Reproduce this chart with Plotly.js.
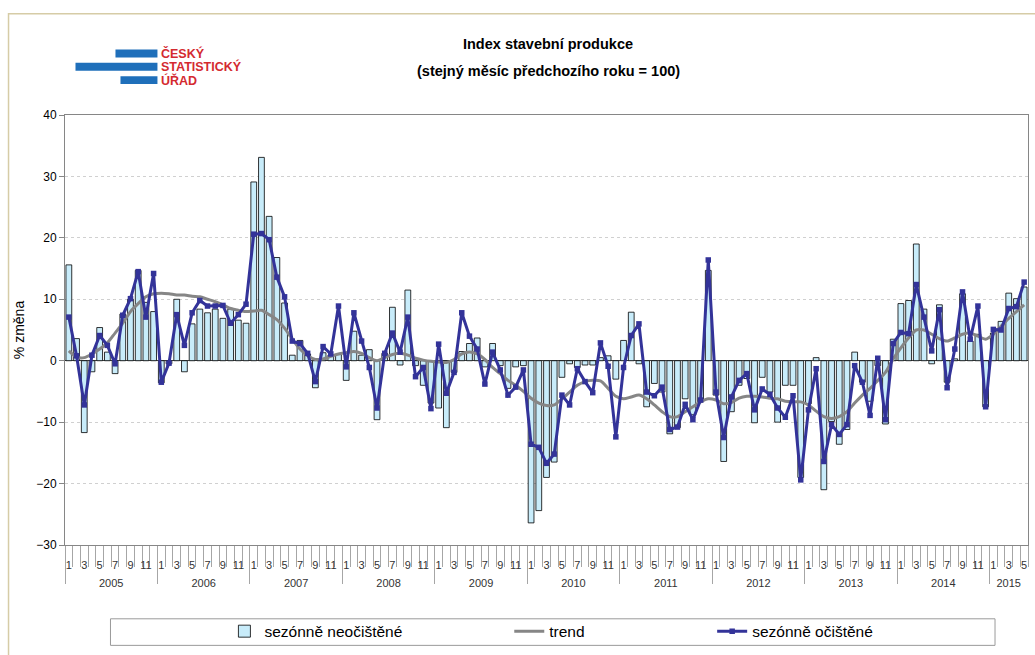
<!DOCTYPE html>
<html>
<head>
<meta charset="utf-8">
<script src="https://cdn.plot.ly/plotly-3.0.1.min.js"></script>
<style>html,body{margin:0;padding:0;background:#fff;}#chart{width:1035px;height:655px;}</style>
</head>
<body>
<div id="chart"></div>
<script>
// ---- data ----
const years = [2005, 2006, 2007, 2008, 2009, 2010, 2011, 2012, 2013, 2014, 2015];
const monthsInYear = [12, 12, 12, 12, 12, 12, 12, 12, 12, 12, 5];
const monthTickLabels = ['1', '3', '5', '7', '9', '11'];

const unadjusted = [
  15.6, 3.6, -11.7, -1.8, 5.4, 1.4, -2.1, 7.6, 10.0, 14.7, 9.5, 8.0,
  -3.6, -0.5, 10.0, -1.8, 6.0, 8.4, 7.8, 8.4, 6.9, 8.4, 6.6, 6.1,
  29.1, 33.1, 23.5, 16.8, 9.4, 0.9, 3.3, 1.1, -4.4, 1.3, 0.9, 1.0,
  -3.2, 4.8, 0.9, 1.8, -9.6, 1.2, 8.7, -0.7, 11.5, -0.8, -4.0, -6.9,
  -7.7, -10.9, -1.9, 1.5, 2.8, 3.7, -1.0, 2.8, -0.8, -4.5, -1.0, -0.8,
  -26.4, -24.4, -19.0, -16.5, -2.7, -0.5, -1.1, -0.7, -0.7, 0.5, 0.8, -3.0,
  3.3, 7.9, -0.5, -7.5, -3.7, -5.1, -11.9, -10.9, -6.2, -8.8, -6.7, 14.7,
  -5.6, -16.4, -8.3, -4.0, -2.9, -10.1, -2.7, -5.1, -10.0, -4.0, -4.0, -19.0,
  -7.0, 0.5, -21.0, -9.9, -13.6, -11.2, 1.4, -3.5, -6.6, -0.8, -10.3, 3.5,
  9.3, 9.8, 19.0, 8.4, -0.5, 9.1, -3.5, 0.3, 10.9, 3.2, 4.3, -7.5,
  4.5, 6.4, 11.0, 10.1, 12.0
];
const trend = [
  1.6, 0.6, 0.5, 1.1, 1.9, 2.9, 4.5, 6.1, 8.0, 9.3, 10.4, 10.9,
  11.0, 10.9, 10.7, 10.7, 10.5, 10.4, 10.0, 9.6, 9.1, 8.5, 8.2, 8.0,
  8.1, 8.2, 7.5, 6.7, 5.3, 3.5, 1.9, 0.8, 0.2, 0.3, 0.7, 1.1,
  1.3, 1.5, 1.2, 0.5, 0.0, 0.5, 1.0, 1.2, 0.9, 0.4, 0.1, -0.1,
  -0.2, -0.3, 0.2, 1.1, 1.4, 1.1, 0.2, -1.1, -2.1, -3.2, -4.0, -5.0,
  -6.1, -6.9, -7.3, -7.2, -6.2, -5.1, -4.0, -3.4, -3.2, -3.3, -4.5, -5.8,
  -6.2, -5.9, -5.6, -6.2, -7.2, -8.3, -9.1, -9.1, -8.3, -7.5, -6.7, -6.2,
  -6.4, -7.0, -6.8, -6.1, -5.8, -5.8, -5.9, -6.1, -6.2, -6.6, -6.7, -6.7,
  -7.2, -8.2, -9.1, -9.4, -9.1, -8.3, -6.9, -5.6, -4.5, -3.2, -1.9, 0.3,
  2.1, 3.7, 5.0, 5.0, 4.3, 3.6, 3.2, 3.7, 4.3, 4.5, 4.0, 3.5,
  4.3, 5.6, 6.9, 8.0, 9.1
];
const adjusted = [
  7.1, 0.8, -7.2, 0.9, 4.1, 2.5, -0.5, 7.4, 10.1, 14.5, 7.1, 14.2,
  -3.5, -0.4, 7.5, 2.5, 7.8, 9.8, 8.9, 8.9, 9.0, 6.1, 7.5, 9.2,
  20.6, 20.7, 19.7, 13.6, 10.4, 3.2, 2.8, 1.2, -3.4, 2.3, 1.1, 8.9,
  -1.0, 7.8, 3.2, -1.1, -7.7, 1.2, 4.5, 1.4, 7.1, -2.6, -1.1, -7.8,
  2.7, -5.3, -1.9, 7.8, 4.0, 1.9, -3.8, 1.4, -1.5, -5.6, -4.3, -1.5,
  -13.6, -14.1, -16.7, -15.2, -5.6, -7.2, -1.3, -3.4, -5.2, 2.9, -0.9, -12.4,
  -1.1, 4.1, 6.0, -5.1, -5.7, -4.3, -11.2, -10.8, -7.1, -9.6, -6.4, 16.4,
  -5.1, -12.5, -5.9, -3.2, -2.1, -8.0, -4.6, -5.5, -7.7, -9.2, -5.7, -19.4,
  -8.0, -1.3, -16.4, -10.4, -12.0, -10.4, -0.8, -3.5, -8.9, 0.4, -9.6, 2.8,
  4.6, 4.4, 12.4, 7.1, 1.6, 8.3, -4.4, 1.9, 11.2, 3.5, 8.9, -7.5,
  5.1, 5.0, 8.5, 8.8, 12.8
];

const seriesNames = ['sezónně neočištěné', 'trend', 'sezónně očištěné'];
const titleLines = ['Index stavební produkce', '(stejný měsíc předchozího roku = 100)'];
const yTitle = '% změna';
const logoLines = ['ČESKÝ', 'STATISTICKÝ', 'ÚŘAD'];

// ---- derived category positions ----
const idx = [];
const monthTickVals = [], monthTickText = [];
const yearCenters = [], yearBounds = [], monthBounds = [];
let k = 0;
years.forEach((yr, yi) => {
  yearBounds.push(k - 0.5);
  yearCenters.push(k + (monthsInYear[yi] - 1) / 2);
  for (let m = 1; m <= monthsInYear[yi]; m++) {
    idx.push(k);
    monthBounds.push(k - 0.5);
    const lab = monthTickLabels.indexOf(String(m));
    if (lab >= 0) { monthTickVals.push(k); monthTickText.push(monthTickLabels[lab]); }
    k++;
  }
});
const xRange = [-0.5, k - 0.5];

const FONT = 'Liberation Sans, Arial, sans-serif';

const traces = [
  {
    type: 'bar', x: idx, y: unadjusted, name: seriesNames[0],
    marker: {color: '#c8ecfa', line: {color: '#000000', width: 0.8}},
    legend: 'legend', showlegend: true, hoverinfo: 'y'
  },
  {
    type: 'scatter', mode: 'lines', x: idx, y: trend, name: seriesNames[1],
    line: {color: '#868686', width: 3, shape: 'spline', smoothing: 0.8},
    legend: 'legend2', showlegend: true
  },
  {
    type: 'scatter', mode: 'lines+markers', x: idx, y: adjusted, name: seriesNames[2],
    xaxis: 'x2',
    line: {color: '#333399', width: 3},
    marker: {symbol: 'square', size: 5.5, color: '#333399'},
    legend: 'legend3', showlegend: true
  }
];

// paper-coordinate helpers for decorations (plot: l=64.5, w=963.5, t=115, h=437)
const L = 64.5, W = 963.5, T = 115, H = 437;
const px = X => (X - L) / W;
const py = Y => (T + H - Y) / H;

const legendFont = {family: FONT, size: 15.5, color: '#000'};
const legBase = {orientation: 'h', yanchor: 'middle', xanchor: 'left', y: py(640),
  bgcolor: 'rgba(0,0,0,0)', borderwidth: 0, font: legendFont, visible: true};

const layout = {
  width: 1035, height: 655,
  showlegend: true,
  margin: {l: L, r: 1035 - L - W, t: T, b: 655 - T - H},
  paper_bgcolor: '#ffffff', plot_bgcolor: '#ffffff',
  font: {family: FONT, size: 12, color: '#000'},
  bargap: 0.25,
  title: {text: titleLines[0], x: 548 / 1035, xanchor: 'center', xref: 'container',
    y: 1 - 44 / 655, yanchor: 'middle', yref: 'container',
    font: {family: FONT, size: 14.5, color: '#000', weight: 'bold'}},
  xaxis: {
    range: xRange, showgrid: false, zeroline: false,
    showline: true, linecolor: '#868686', linewidth: 1, mirror: true,
    tickmode: 'array', tickvals: monthTickVals, ticktext: monthTickText,
    ticks: '', ticklabelstandoff: 10,
    tickfont: {family: FONT, size: 11, color: '#333'},
    minor: {tickmode: 'array', tickvals: monthBounds.concat([k - 0.5]), ticks: 'outside', ticklen: 21,
      tickcolor: '#a6a6a6', tickwidth: 1, showgrid: false}
  },
  xaxis2: {
    overlaying: 'x', anchor: 'y', side: 'bottom', range: xRange,
    showgrid: false, zeroline: false, showline: false,
    tickmode: 'array', tickvals: yearCenters, ticktext: years.map(String),
    ticks: '', ticklabelstandoff: 30,
    tickfont: {family: FONT, size: 11, color: '#333'},
    minor: {tickmode: 'array', tickvals: yearBounds, ticks: 'outside', ticklen: 38,
      tickcolor: '#a6a6a6', tickwidth: 1, showgrid: false}
  },
  yaxis: {
    range: [-30, 40], dtick: 10, tick0: 0,
    showgrid: true, gridcolor: '#d0d0d0', griddash: 'dot', gridwidth: 1,
    zeroline: true, zerolinecolor: '#404040', zerolinewidth: 1,
    showline: true, linecolor: '#868686', linewidth: 1, mirror: true,
    ticks: 'outside', ticklen: 5, tickcolor: '#868686',
    tickfont: {family: FONT, size: 12, color: '#000'},
    title: {text: yTitle, font: {family: FONT, size: 14, color: '#000'}, standoff: 8}
  },
  legend: Object.assign({}, legBase, {x: px(224)}),
  legend2: Object.assign({}, legBase, {x: px(509)}),
  legend3: Object.assign({}, legBase, {x: px(712)}),
  annotations: [
    {text: titleLines[1], xref: 'paper', yref: 'paper', x: px(548), y: py(70),
      xanchor: 'center', yanchor: 'middle', showarrow: false,
      font: {family: FONT, size: 14.5, color: '#000', weight: 'bold'}},
    {text: logoLines[0], xref: 'paper', yref: 'paper', x: px(159), y: py(52.5), xanchor: 'left', yanchor: 'middle',
      showarrow: false, font: {family: FONT, size: 12.5, color: '#d42a30', weight: 'bold'}},
    {text: logoLines[1], xref: 'paper', yref: 'paper', x: px(159), y: py(66), xanchor: 'left', yanchor: 'middle',
      showarrow: false, font: {family: FONT, size: 12.5, color: '#d42a30', weight: 'bold'}},
    {text: logoLines[2], xref: 'paper', yref: 'paper', x: px(159), y: py(79.5), xanchor: 'left', yanchor: 'middle',
      showarrow: false, font: {family: FONT, size: 12.5, color: '#d42a30', weight: 'bold'}}
  ],
  shapes: [
    {type: 'rect', xref: 'paper', yref: 'paper', x0: px(8), x1: px(1045), y0: py(670), y1: py(12),
      line: {color: '#d6cca6', width: 1.5}, fillcolor: 'rgba(0,0,0,0)', layer: 'below'},
    {type: 'rect', xref: 'paper', yref: 'paper', x0: px(110), x1: px(995), y0: py(654), y1: py(627),
      line: {color: '#9a9a9a', width: 1}, fillcolor: 'rgba(0,0,0,0)'},
    {type: 'rect', xref: 'paper', yref: 'paper', x0: px(115), x1: px(157), y0: py(56.5), y1: py(48.5),
      line: {width: 0}, fillcolor: '#1f6fba'},
    {type: 'rect', xref: 'paper', yref: 'paper', x0: px(75), x1: px(157), y0: py(70), y1: py(62),
      line: {width: 0}, fillcolor: '#1f6fba'},
    {type: 'rect', xref: 'paper', yref: 'paper', x0: px(120), x1: px(157), y0: py(83.5), y1: py(75.5),
      line: {width: 0}, fillcolor: '#1f6fba'}
  ]
};

Plotly.newPlot('chart', traces, layout, {staticPlot: true, displayModeBar: false});
</script>
</body>
</html>
